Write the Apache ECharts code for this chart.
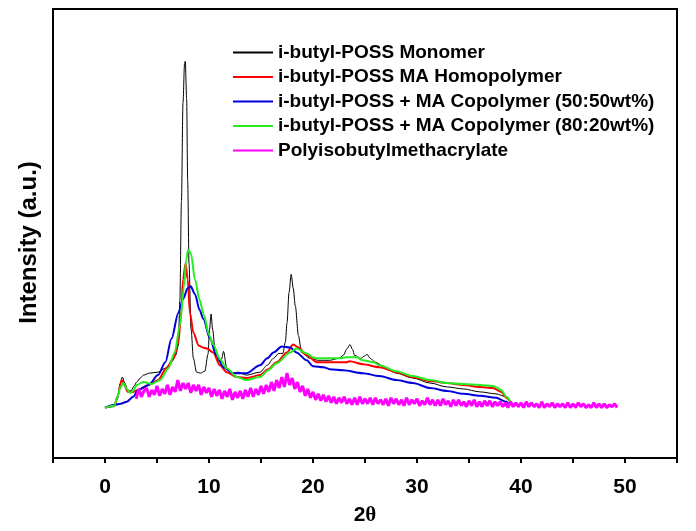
<!DOCTYPE html>
<html>
<head>
<meta charset="utf-8">
<script src="https://cdn.jsdelivr.net/npm/echarts@6/dist/echarts.min.js"></script>
<style>
  html, body { margin: 0; padding: 0; background: #fff; }
  #main { width: 696px; height: 531px; }
</style>
</head>
<body>
<div id="main"></div>
<script>
// XRD patterns, [2theta, intensity (a.u.)]
var monomer = [
  [0,51],[0.9,52],[1.2,60],[1.45,75],[1.67,82],[1.9,76],[2.2,68],[2.5,68],[2.8,73],[3.05,77],[3.4,81],[3.7,84],
  [4.3,86],[5.1,87],[5.8,91],[6.4,97],[6.8,104],[7.05,114],[7.2,160],[7.35,260],[7.5,360],[7.65,400],[7.72,402],
  [7.85,364],[7.95,281],[8.08,197],[8.27,131],[8.5,101],[8.8,87],[9.2,86],[9.6,88],[9.9,105],[10.05,130],[10.2,146],
  [10.35,130],[10.6,107],[10.9,99],[11.2,100],[11.4,108],[11.7,91],[12.3,86],[12.8,87],[13.6,84],[14.9,87],
  [15.6,94],[16.2,101],[16.7,106],[17.1,106],[17.35,118],[17.5,137],[17.7,168],[17.9,186],[18.1,172],[18.3,154],
  [18.6,124],[18.9,107],[19.7,101],[20.5,99],[21.6,99],[22.5,101],[22.9,104],[23.3,111],[23.55,115],[23.8,110],
  [24.0,104],[24.6,101],[24.9,103],[25.2,105],[25.5,101],[26.0,97],[27.0,91],[28.0,86],[29.6,81],[31.25,76],
  [32.9,72],[34.45,70],[36.05,67],[37.6,65],[38.6,62],[38.9,59]
];
var homopolymer = [
  [0,51],[0.9,53],[1.2,62],[1.6,79],[1.85,74],[2.2,67],[2.7,67],[3.2,69],[4.2,74],[5.1,79],[5.9,91],[6.6,101],
  [7.05,117],[7.35,150],[7.5,181],[7.75,197],[7.95,181],[8.17,147],[8.5,127],[9.0,114],[9.4,112],[9.8,111],
  [10.4,107],[11.05,94],[11.7,87],[12.7,82],[13.6,81],[14.9,84],[15.7,90],[16.5,97],[17.5,107],[18.1,115],
  [18.6,112],[19.4,104],[20.4,97],[21.6,97],[23.2,97],[23.55,98],[24.8,95],[26.4,92],[28.0,87],[29.6,82],
  [31.25,78],[32.9,76],[34.45,74],[36.05,72],[37.3,71],[38.1,67],[38.6,61],[38.9,58]
];
var copoly5050 = [
  [0,51],[0.96,54],[1.5,55],[2.1,57],[2.7,62],[3.2,69],[4.2,74],[5.1,84],[5.8,97],[6.4,121],[7.05,147],[7.5,161],
  [7.95,172],[8.24,174],[8.65,166],[9.1,150],[9.45,141],[10.1,121],[10.7,104],[11.4,92],[12.3,86],[13.6,86],
  [14.9,94],[15.6,101],[16.2,107],[17.0,113],[17.8,112],[18.4,107],[19.4,99],[20.0,93],[21.0,92],[21.6,90],
  [22.9,89],[24.8,86],[26.4,83],[28.0,79],[29.6,76],[31.25,71],[32.9,68],[34.45,65],[36.05,63],[37.6,61],
  [38.6,57],[38.8,55]
];
var copoly8020 = [
  [0,51],[0.9,53],[1.2,62],[1.5,72],[1.76,76],[2.1,70],[2.4,66],[2.7,68],[3.05,74],[3.7,77],[4.5,75],[5.3,79],
  [6.1,91],[6.7,107],[7.2,134],[7.6,174],[7.8,201],[8.0,211],[8.27,207],[8.65,181],[9.1,160],[9.5,145],[10.0,125],
  [10.4,115],[11.05,100],[11.7,91],[12.7,82],[13.6,79],[14.9,82],[15.7,89],[16.5,96],[17.8,107],[18.4,111],
  [19.4,106],[20.0,102],[20.4,101],[22.6,101],[23.2,102],[24.2,102],[24.8,99],[25.8,97],[26.4,94],[28.0,88],
  [29.6,83],[31.25,79],[32.9,76],[34.45,75],[36.05,74],[37.3,73],[38.1,69],[38.6,62],[39.0,57]
];
// PiBMA (noisy trace): read every 0.25 deg starting at 3.0
var pibmaStart = 3.0;
var pibmaStep = 0.25;
var pibma = [
  60,70,62,68, 71,62,69,64, 73,63,70,65, 74,64,72,67, 79,68,76,70, 76,66,74,68,
  74,64,72,66, 71,62,70,63, 69,60,68,62, 70,59,67,61, 68,60,69,62, 71,62,70,64,
  73,65,74,67, 77,68,79,71, 82,72,86,74, 81,70,77,67, 73,63,70,61, 67,59,65,58,
  64,57,63,56, 62,55,61,56, 62,55,60,54, 61,54,62,55, 60,55,61,54, 61,55,59,54,
  60,53,61,55, 60,54,59,53, 61,54,59,55, 60,53,58,54, 61,54,59,53, 59,53,60,54,
  58,52,59,53, 59,53,57,52, 58,53,59,52, 57,52,58,53, 58,52,57,53, 57,52,56,51,
  57,52,56,52, 56,51,57,52, 56,52,55,51, 57,51,55,52, 56,51,55,52, 55,51,56,51,
  55,51,56,52, 55,51,54,51, 56,51,55,51, 55,51,54,52, 55,51
];

var seriesNames = [
  'i-butyl-POSS Monomer',
  'i-butyl-POSS MA Homopolymer',
  'i-butyl-POSS + MA Copolymer (50:50wt%)',
  'i-butyl-POSS + MA Copolymer (80:20wt%)',
  'Polyisobutylmethacrylate'
];
var xTicks = [0, 10, 20, 30, 40, 50];

var pibmaData = pibma.map(function (v, i) { return [pibmaStart + i * pibmaStep, v]; });

var font = '"Liberation Sans", Arial, sans-serif';
var chart = echarts.init(document.getElementById('main'));

function lineSeries(name, data, color, width, smooth) {
  return {
    name: name,
    type: 'line',
    data: data,
    symbol: 'none',
    smooth: smooth,
    smoothMonotone: 'x',
    lineStyle: { color: color, width: width },
    itemStyle: { color: color }
  };
}

chart.setOption({
  animation: false,
  backgroundColor: '#fff',
  grid: {
    left: 53, right: 19, top: 9, bottom: 67,
    show: true, borderColor: '#000', borderWidth: 2, backgroundColor: 'transparent'
  },
  legend: {
    orient: 'vertical',
    left: 228,
    top: 38,
    itemWidth: 40,
    itemHeight: 2,
    itemGap: 5.5,
    icon: 'rect',
    data: seriesNames,
    textStyle: { fontFamily: font, fontWeight: 'bold', fontSize: 19, color: '#000', lineHeight: 19 }
  },
  xAxis: {
    type: 'value',
    min: -5,
    max: 55,
    interval: 5,
    name: '{b|2}{t|θ}',
    nameLocation: 'middle',
    nameGap: 47,
    nameTextStyle: {
      rich: {
        b: { fontFamily: font, fontWeight: 'bold', fontSize: 21, color: '#000' },
        t: { fontFamily: '"Liberation Serif", serif', fontWeight: 'bold', fontSize: 21, color: '#000' }
      }
    },
    axisLine: { onZero: false, lineStyle: { color: '#000', width: 2 } },
    axisTick: { inside: false, length: 5, lineStyle: { color: '#000', width: 2 } },
    axisLabel: {
      margin: 19,
      fontFamily: font, fontWeight: 'bold', fontSize: 21, color: '#000',
      formatter: function (v) { return xTicks.indexOf(v) >= 0 ? String(v) : ''; }
    },
    splitLine: { show: false }
  },
  yAxis: {
    type: 'value',
    min: 0,
    max: 455,
    name: 'Intensity (a.u.)',
    nameLocation: 'middle',
    nameGap: 12,
    nameTextStyle: {
      fontFamily: font, fontWeight: 'bold', fontSize: 24, color: '#000',
      padding: [0, 18, 0, 0]
    },
    axisLine: { show: false, onZero: false },
    axisTick: { show: false },
    axisLabel: { show: false },
    splitLine: { show: false }
  },
  series: [
    lineSeries(seriesNames[0], monomer, '#000000', 1, 0.3),
    lineSeries(seriesNames[1], homopolymer, '#ff0000', 2, 0.3),
    lineSeries(seriesNames[2], copoly5050, '#0000dd', 2, 0.3),
    lineSeries(seriesNames[3], copoly8020, '#22ee22', 2, 0.3),
    lineSeries(seriesNames[4], pibmaData, '#ff00ff', 3, false)
  ]
});
</script>
</body>
</html>
